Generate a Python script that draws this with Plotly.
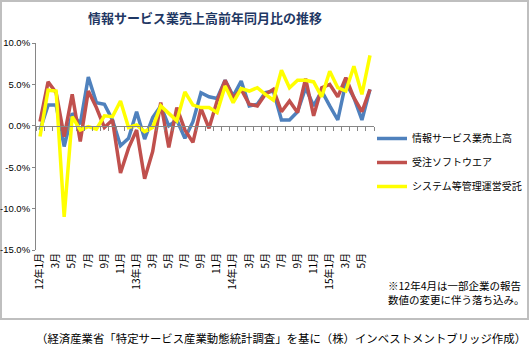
import plotly.graph_objects as go

# ---- data ----
months = list(range(42))  # 2012/1 .. 2015/6
x_tick_pos = list(range(0, 42, 2))
x_tick_text = ["12年1月", "3月", "5月", "7月", "9月", "11月",
               "13年1月", "3月", "5月", "7月", "9月", "11月",
               "14年1月", "3月", "5月", "7月", "9月", "11月",
               "15年1月", "3月", "5月"]
y_tick_vals = [10, 5, 0, -5, -10, -15]
y_tick_text = ["10.0%", "5.0%", "0.0%", "-5.0%", "-10.0%", "-15.0%"]

info_service = [-0.5, 2.5, 2.5, -2.5, 1.5, 0.2, 5.9, 2.8, 2.6, 0.7,
                -2.4, -1.5, 1.7, -1.6, 1.0, 2.4, 0.0, 0.7, -1.5, 0.5,
                4.0, 3.5, 3.3, 5.5, 3.6, 5.4, 2.4, 2.6, 4.0, 4.2,
                0.7, 0.7, 1.7, 4.6, 2.4, 4.2, 2.4, 0.7, 5.2, 3.4,
                0.7, 4.4]
order_software = [0.5, 5.3, 4.0, -1.3, 3.8, -1.9, 4.2, 2.2, -0.2, 0.7,
                  -5.7, -2.7, -0.5, -6.4, -3.1, 2.8, -2.6, 2.2, -0.5, -2.0,
                  2.1, -0.3, 3.0, 5.5, 3.4, 4.4, 2.6, 2.4, 3.8, 4.4,
                  1.7, 3.0, 1.6, 5.7, 1.2, 4.6, 5.0, 3.5, 5.8, 3.4,
                  1.7, 4.4]
system_mgmt = [-1.3, 4.3, 4.2, -11.0, 1.1, -0.5, -0.1, -0.4, 1.2, 1.1,
               3.0, -0.2, 0.1, -0.7, -0.2, 2.4, 1.5, 0.6, 4.1, 2.5,
               2.2, 2.2, 1.6, 4.8, 2.8, 4.5, 4.2, 4.6, 3.8, 3.1,
               6.7, 4.6, 5.5, 5.5, 5.3, 3.5, 6.6, 4.6, 4.2, 7.2,
               3.8, 8.5]
series_names = ["情報サービス業売上高", "受注ソフトウエア", "システム等管理運営受託"]
series_colors = ["#4F81BD", "#C0504D", "#FFFF00"]

FONT = "Noto Sans CJK JP"

# layout geometry (pixels)
W, H = 530, 347
L, R, T, B = 36, 156, 43, 97
PW, PH = W - L - R, H - T - B

def px(xp):
    return (xp - L) / PW

def py(yp):
    return (H - B - yp) / PH

fig = go.Figure()
for name, vals, col in zip(series_names, [info_service, order_software, system_mgmt], series_colors):
    fig.add_trace(go.Scatter(x=months, y=vals, mode="lines", name=name,
                             legendgroup=name,
                             line=dict(color=col, width=3.5)))

ymin, ymax = -15, 10
fig.update_layout(
    width=W, height=H,
    margin=dict(l=L, r=R, t=T, b=B, autoexpand=False),
    paper_bgcolor="white", plot_bgcolor="white",
    font=dict(family=FONT, size=10, color="black"),
    showlegend=True,
    legend=dict(x=px(372), y=py(124), xanchor="left", yanchor="top",
                font=dict(family=FONT, size=10, color="black"),
                tracegroupgap=5, bgcolor="rgba(0,0,0,0)"),
    xaxis=dict(range=[-0.5, 41.5], tickvals=x_tick_pos, ticktext=x_tick_text,
               tickangle=-90, showline=False, ticks="", showgrid=False,
               zeroline=False, tickfont=dict(family=FONT, size=10)),
    xaxis2=dict(range=[-0.5, 41.5], overlaying="x", anchor="free",
                position=(0 - ymin) / (ymax - ymin),
                tickvals=[i - 0.5 for i in range(43)], showticklabels=False,
                ticks="outside", ticklen=4, tickcolor="#868686",
                showline=True, linecolor="#868686", linewidth=1,
                showgrid=False, zeroline=False),
    yaxis=dict(range=[ymin, ymax], tickvals=y_tick_vals, ticktext=y_tick_text,
               showline=True, linecolor="#868686", linewidth=1,
               ticks="outside", ticklen=3, tickcolor="#868686",
               showgrid=False, zeroline=False,
               tickfont=dict(family="Liberation Sans", size=9.5)),
)

# invisible helper trace so the zero-line axis renders
fig.add_trace(go.Scatter(x=[months[0]], y=[None], xaxis="x2", showlegend=False,
                         hoverinfo="skip", mode="lines"))

# chart border
fig.add_shape(type="rect", xref="paper", yref="paper",
              x0=px(1), x1=px(528), y0=py(319), y1=py(1),
              line=dict(color="#BFBFBF", width=2), layer="below")

fig.add_annotation(text="<b>情報サービス業売上高前年同月比の推移</b>",
                   xref="paper", yref="paper", x=px(205), y=py(17),
                   xanchor="center", yanchor="middle", showarrow=False,
                   font=dict(family=FONT, size=13, color="#1F3864"))
fig.add_annotation(text="※12年4月は一部企業の報告<br>数値の変更に伴う落ち込み。",
                   xref="paper", yref="paper", x=px(386), y=py(292),
                   xanchor="left", yanchor="middle", align="left", showarrow=False,
                   font=dict(family=FONT, size=10.5, color="black"))
fig.add_annotation(text="（経済産業省「特定サービス産業動態統計調査」を基に（株）インベストメントブリッジ作成）",
                   xref="paper", yref="paper", x=px(281), y=py(338),
                   xanchor="center", yanchor="middle", showarrow=False,
                   font=dict(family=FONT, size=11.4, color="black"))

fig.write_html("out.html")
